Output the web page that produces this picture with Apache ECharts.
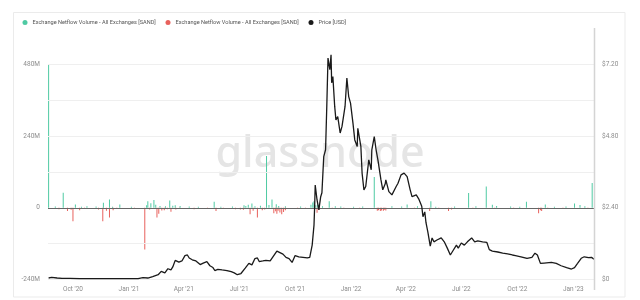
<!DOCTYPE html>
<html><head><meta charset="utf-8">
<script src="https://cdn.jsdelivr.net/npm/echarts@6/dist/echarts.min.js"></script>
<style>html,body{margin:0;padding:0;background:#fff}#c{width:640px;height:300px}</style>
</head><body><div id="c"></div>
<script>
const priceDates = ['2020-08-22','2020-08-27','2020-09-05','2020-09-13','2020-09-26','2020-10-12','2020-11-06','2020-12-01','2020-12-25','2021-01-16','2021-01-24','2021-02-01','2021-02-09','2021-02-18','2021-02-23','2021-02-26','2021-03-01','2021-03-06','2021-03-11','2021-03-14','2021-03-18','2021-03-21','2021-03-24','2021-03-29','2021-04-03','2021-04-07','2021-04-10','2021-04-15','2021-04-21','2021-04-28','2021-05-03','2021-05-06','2021-05-09','2021-05-14','2021-05-19','2021-05-22','2021-05-27','2021-06-03','2021-06-11','2021-06-18','2021-06-23','2021-06-28','2021-07-01','2021-07-04','2021-07-11','2021-07-17','2021-07-22','2021-07-27','2021-07-31','2021-08-03','2021-08-09','2021-08-14','2021-08-21','2021-08-24','2021-09-01','2021-09-06','2021-09-11','2021-09-16','2021-09-21','2021-09-26','2021-10-01','2021-10-07','2021-10-14','2021-10-21','2021-10-25','2021-10-29','2021-11-01','2021-11-02','2021-11-03','2021-11-06','2021-11-09','2021-11-12','2021-11-14','2021-11-17','2021-11-20','2021-11-22','2021-11-24','2021-11-27','2021-11-29','2021-11-30','2021-12-02','2021-12-05','2021-12-07','2021-12-10','2021-12-14','2021-12-17','2021-12-20','2021-12-22','2021-12-25','2021-12-28','2021-12-31','2022-01-04','2022-01-07','2022-01-11','2022-01-12','2022-01-17','2022-01-19','2022-01-22','2022-01-25','2022-01-30','2022-02-03','2022-02-04','2022-02-08','2022-02-11','2022-02-14','2022-02-19','2022-02-22','2022-02-26','2022-02-27','2022-03-04','2022-03-09','2022-03-16','2022-03-19','2022-03-24','2022-03-29','2022-04-03','2022-04-08','2022-04-11','2022-04-18','2022-04-22','2022-04-27','2022-04-29','2022-05-02','2022-05-04','2022-05-07','2022-05-11','2022-05-14','2022-05-17','2022-05-22','2022-05-29','2022-06-03','2022-06-08','2022-06-13','2022-06-16','2022-06-23','2022-06-26','2022-07-01','2022-07-06','2022-07-11','2022-07-18','2022-07-23','2022-07-28','2022-08-05','2022-08-12','2022-08-16','2022-08-21','2022-08-30','2022-09-07','2022-09-15','2022-09-23','2022-09-28','2022-10-07','2022-10-17','2022-10-25','2022-10-30','2022-11-03','2022-11-08','2022-11-14','2022-11-26','2022-12-04','2022-12-12','2022-12-21','2022-12-29','2023-01-03','2023-01-08','2023-01-14','2023-01-19','2023-01-26','2023-01-31','2023-02-04'];
const priceValues = [0.05,0.07,0.05,0.04,0.04,0.03,0.03,0.03,0.03,0.03,0.06,0.05,0.10,0.16,0.27,0.30,0.22,0.36,0.32,0.42,0.64,0.68,0.58,0.62,0.80,0.82,0.72,0.66,0.62,0.50,0.55,0.60,0.60,0.46,0.40,0.30,0.34,0.32,0.30,0.26,0.22,0.16,0.15,0.20,0.38,0.54,0.49,0.70,0.72,0.60,0.62,0.64,0.62,0.56,0.95,0.90,0.85,0.74,0.70,0.57,0.80,0.76,0.74,0.72,0.74,1.15,1.82,2.40,3.16,2.66,2.33,2.77,2.90,4.11,4.34,5.79,7.41,7.02,7.52,6.58,6.79,5.79,5.34,5.45,4.90,5.12,5.12,5.79,6.74,6.12,5.90,5.23,4.67,4.45,5.06,4.45,3.56,3.00,3.11,4.00,3.67,4.34,4.78,4.34,4.00,3.33,3.00,3.20,3.33,2.94,2.83,3.11,3.22,3.50,3.56,3.44,3.00,2.77,2.83,2.70,2.45,2.10,2.26,1.90,1.59,1.12,1.39,1.26,1.32,1.39,1.26,1.05,0.82,0.92,1.15,1.05,1.22,1.15,1.26,1.39,1.26,1.29,1.26,1.24,1.00,0.95,0.92,0.88,0.86,0.82,0.80,0.76,0.71,0.74,0.88,0.82,0.54,0.55,0.57,0.54,0.46,0.40,0.35,0.40,0.54,0.71,0.76,0.73,0.74,0.68];

// Exchange netflow, millions of SAND
const inflowDates = ['2020-08-22','2020-09-02','2020-09-15','2020-10-05','2020-10-15','2020-10-24','2020-11-08','2020-11-20','2020-11-30','2020-12-05','2020-12-17','2021-01-05','2021-01-30','2021-02-01','2021-02-06','2021-02-11','2021-02-14','2021-02-21','2021-03-02','2021-03-09','2021-03-14','2021-03-18','2021-03-26','2021-04-10','2021-04-25','2021-05-21','2021-06-01','2021-06-20','2021-07-09','2021-07-12','2021-07-16','2021-07-22','2021-07-27','2021-08-05','2021-08-15','2021-08-19','2021-08-24','2021-08-31','2021-09-04','2021-09-15','2021-10-10','2021-10-27','2021-10-30','2021-11-01','2021-11-04','2021-11-07','2021-11-15','2021-11-26','2021-12-06','2021-12-15','2022-01-05','2022-01-20','2022-02-08','2022-03-09','2022-03-25','2022-04-03','2022-04-20','2022-05-12','2022-05-20','2022-06-20','2022-07-13','2022-07-25','2022-08-11','2022-08-21','2022-08-28','2022-09-20','2022-10-05','2022-10-16','2022-11-16','2022-12-01','2022-12-20','2023-01-03','2023-01-12','2023-01-20','2023-02-01'];
const inflowValuesM = [480,4,50,11,3,5,4,17,28,3,11,3,8,22,15,26,10,6,5,24,7,8,6,4,3,20,3,4,8,6,10,14,5,7,173,9,28,12,6,5,4,10,18,22,8,12,5,22,5,4,3,4,103,5,4,11,5,22,3,4,49,5,71,10,6,4,3,20,11,3,4,14,9,5,83];

const outflowDates = ['2020-09-08','2020-09-22','2020-09-28','2020-10-01','2020-10-12','2020-10-20','2020-11-12','2020-11-19','2020-11-25','2020-11-30','2020-12-06','2020-12-12','2021-01-10','2021-01-27','2021-02-04','2021-02-16','2021-02-19','2021-02-24','2021-02-28','2021-03-05','2021-03-11','2021-03-19','2021-03-25','2021-04-18','2021-05-10','2021-05-24','2021-06-05','2021-06-25','2021-07-03','2021-07-08','2021-07-19','2021-07-24','2021-07-31','2021-08-08','2021-08-12','2021-08-27','2021-08-30','2021-09-01','2021-09-03','2021-09-06','2021-09-09','2021-09-12','2021-09-15','2021-10-05','2021-10-18','2021-11-06','2021-11-10','2021-12-01','2021-12-20','2022-01-15','2022-02-13','2022-02-15','2022-02-18','2022-02-20','2022-02-23','2022-02-25','2022-02-27','2022-04-15','2022-05-10','2022-05-25','2022-06-10','2022-06-15','2022-07-20','2022-08-25','2022-09-25','2022-11-05','2022-11-08','2022-11-10','2022-11-20','2022-12-15','2023-01-25'];
const outflowValuesM = [-5,-11,-7,-45,-8,-4,-6,-45,-10,-33,-8,-4,-3,-140,-6,-33,-20,-9,-8,-5,-13,-6,-4,-5,-4,-11,-3,-5,-6,-7,-22,-10,-33,-8,-6,-18,-12,-20,-10,-16,-22,-14,-8,-4,-3,-17,-6,-4,-3,-3,-10,-8,-11,-9,-10,-7,-9,-4,-11,-4,-11,-6,-3,-4,-3,-18,-8,-11,-4,-3,-3];

const xTickDates = ['2020-10-01','2021-01-01','2021-04-01','2021-07-01','2021-10-01','2022-01-01','2022-04-01','2022-07-01','2022-10-01','2023-01-01'];
const xTickLabels = ["Oct '20","Jan '21","Apr '21","Jul '21","Oct '21","Jan '22","Apr '22","Jul '22","Oct '22","Jan '23"];
const leftTickValues = [-240e6, 0, 240e6, 480e6];
const leftTickLabels = ['-240M', '0', '240M', '480M'];
const rightTickValues = [0, 2.4, 4.8, 7.2];
const rightTickLabels = ['$0', '$2.40', '$4.80', '$7.20'];
const gridValues = [-240e6, -120e6, 120e6, 240e6, 360e6, 480e6];

const NAME_IN = 'Exchange Netflow Volume - All Exchanges [SAND]';
const NAME_OUT = 'Exchange Netflow Volume - All Exchanges [SAND] ';
const NAME_PRICE = 'Price [USD]';

const ts = d => +echarts.time.parse(d);
const zip = (a, b, k) => a.map((d, i) => [ts(d), b[i] * (k || 1)]);
const tickTimes = xTickDates.map(ts);
const nearestIdx = (arr, v) => { let bi = 0, bd = Infinity; arr.forEach((a, i) => { const d = Math.abs(a - v); if (d < bd) { bd = d; bi = i; } }); return bi; };

const FONT = 'Roboto';
const legendBase = {top: 19.5, itemWidth: 5, itemHeight: 5, icon: 'circle', padding: 0,
  textStyle: {fontSize: 5.6, color: '#555', fontFamily: FONT}};
const chart = echarts.init(document.getElementById('c'), null, {renderer: 'canvas'});
chart.setOption({
  animation: false,
  backgroundColor: '#fff',
  textStyle: {fontFamily: FONT},
  legend: [
    Object.assign({left: 22.5, data: [NAME_IN]}, legendBase),
    Object.assign({left: 165.5, data: [NAME_OUT]}, legendBase),
    Object.assign({left: 308.5, data: [NAME_PRICE]}, legendBase)
  ],
  grid: {left: 48, right: 46, top: 28.4, bottom: 20.5, outerBoundsMode: 'none'},
  xAxis: {
    type: 'value', min: ts('2020-08-21'), max: ts('2023-02-04'), scale: true,
    axisLine: {show: false}, axisTick: {show: false}, splitLine: {show: false},
    axisLabel: {
      customValues: tickTimes, margin: 6, fontSize: 6.5, color: '#8c8c8c', fontFamily: FONT,
      formatter: v => xTickLabels[nearestIdx(tickTimes, v)]
    }
  },
  yAxis: [{
    type: 'value', min: -240e6, max: 600e6, position: 'left',
    axisLine: {show: false}, axisTick: {show: false}, splitLine: {show: false},
    axisLabel: {customValues: leftTickValues, margin: 8, fontSize: 6.5, color: '#8c8c8c', fontFamily: FONT,
      formatter: v => leftTickLabels[nearestIdx(leftTickValues, v)]}
  }, {
    type: 'value', min: 0, max: 8.4, position: 'right',
    axisLine: {show: false}, axisTick: {show: false}, splitLine: {show: false},
    axisLabel: {customValues: rightTickValues, margin: 8, fontSize: 6.5, color: '#8c8c8c', fontFamily: FONT,
      formatter: v => rightTickLabels[nearestIdx(rightTickValues, v)]}
  }],
  graphic: [
    {type: 'rect', z: -10, shape: {x: 13.5, y: 12.5, width: 611.5, height: 284.5}, style: {fill: 'none', stroke: '#ebebeb', lineWidth: 1}, silent: true},
    {type: 'text', z: -5, x: 320, y: 155, silent: true, style: {text: 'glassnode', font: '500 43px "Noto Sans"', fill: '#e5e5e5', align: 'center', verticalAlign: 'middle'}},
    {type: 'line', z: 10, shape: {x1: 594.5, y1: 28, x2: 594.5, y2: 290}, style: {stroke: '#d4d4d4', lineWidth: 1.5}, silent: true}
  ],
  series: [{
    name: NAME_IN, type: 'bar', yAxisIndex: 0, barWidth: 1, barGap: '-100%',
    itemStyle: {color: '#4fcaa3'}, color: '#22b483',
    data: zip(inflowDates, inflowValuesM, 1e6),
    markLine: {silent: true, symbol: 'none', label: {show: false},
      lineStyle: {color: '#efefef', type: 'solid', width: 1},
      data: gridValues.map(v => ({yAxis: v}))}
  }, {
    name: NAME_OUT, type: 'bar', yAxisIndex: 0, barWidth: 1, barGap: '-100%',
    itemStyle: {color: '#e8615c'}, color: '#e0302c',
    data: zip(outflowDates, outflowValuesM, 1e6),
    markLine: {silent: true, symbol: 'none', label: {show: false},
      lineStyle: {color: '#666', type: 'solid', width: 1},
      data: [{yAxis: 0}]}
  }, {
    name: NAME_PRICE, type: 'line', yAxisIndex: 1, z: 5, showSymbol: false, symbol: 'none',
    color: '#1a1a1a', lineStyle: {color: '#1a1a1a', width: 1.3},
    data: zip(priceDates, priceValues)
  }]
});
</script></body></html>
